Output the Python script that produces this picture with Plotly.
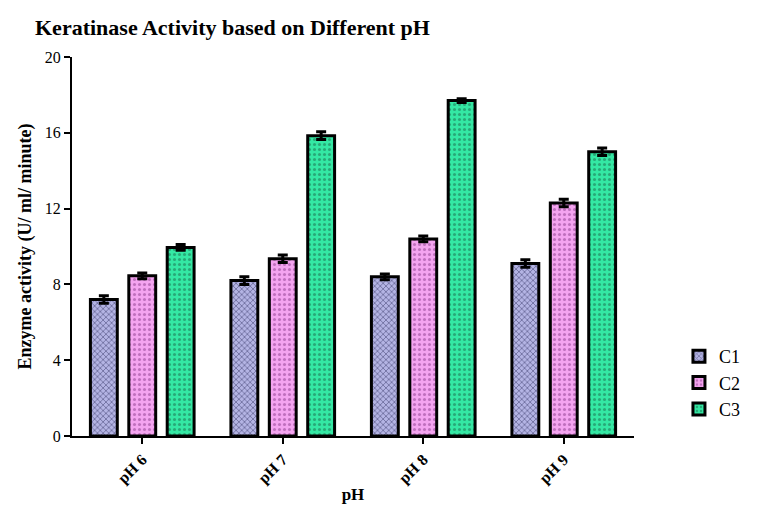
import plotly.graph_objects as go

categories = ["pH 6", "pH 7", "pH 8", "pH 9"]
c1_values = [7.2, 8.2, 8.4, 9.1]
c2_values = [8.45, 9.35, 10.4, 12.3]
c3_values = [9.95, 15.85, 17.7, 15.0]
c1_err = [0.2, 0.2, 0.15, 0.2]
c2_err = [0.15, 0.2, 0.15, 0.2]
c3_err = [0.15, 0.2, 0.1, 0.2]

series = [
    ("C1", c1_values, c1_err, "#b4b4e4", "#2c2c5c", "x", 4, 0.4),
    ("C2", c2_values, c2_err, "#f4a4f0", "#8a3a8a", ".", 5, 0.3),
    ("C3", c3_values, c3_err, "#34e8a4", "#1a6a4a", ".", 5, 0.3),
]

fig = go.Figure()
for name, vals, err, bg, fg, shape, psize, sol in series:
    fig.add_trace(go.Bar(
        name=name, x=categories, y=vals,
        marker=dict(
            color=bg,
            line=dict(color="black", width=3),
            pattern=dict(shape=shape, bgcolor=bg, fgcolor=fg, size=psize, solidity=sol, fillmode="overlay"),
        ),
        error_y=dict(type="data", array=err, visible=True, color="black", thickness=3, width=5),
    ))

font_family = "Liberation Serif, Times New Roman, serif"
fig.update_layout(
    width=757, height=511,
    paper_bgcolor="white", plot_bgcolor="white",
    margin=dict(l=64, r=131, t=49, b=83),
    barmode="group", bargap=0.18, bargroupgap=0.3,
    title=dict(text="<b>Keratinase Activity based on Different pH</b>",
               x=27/757, xanchor="left", y=1-19/511, yanchor="middle",
               font=dict(family=font_family, size=22, color="black")),
    legend=dict(x=1.08, xanchor="left", y=0.14, yanchor="middle",
                font=dict(family=font_family, size=18, color="black"),
                itemwidth=30),
    showlegend=True,
)
fig.update_xaxes(
    showline=True, linecolor="black", linewidth=2,
    ticks="outside", ticklen=6, tickwidth=2, tickcolor="black",
    tickangle=-45,
    tickfont=dict(family=font_family, size=16, color="black"),
    title=dict(text="<b>pH</b>", font=dict(family=font_family, size=17, color="black"), standoff=2),
    showgrid=False, range=[-0.5, 3.5],
    tickprefix="<b>", ticksuffix="</b>",
)
fig.update_yaxes(
    range=[0, 20], tickvals=[0, 4, 8, 12, 16, 20],
    showline=True, linecolor="black", linewidth=2,
    ticks="outside", ticklen=6, tickwidth=2, tickcolor="black",
    tickfont=dict(family=font_family, size=16, color="black"),
    tickprefix="<b>", ticksuffix="</b>",
    title=dict(text="<b>Enzyme activity (U/ ml/ minute)</b>", font=dict(family=font_family, size=18, color="black"), standoff=8),
    showgrid=False, zeroline=False,
)

fig.write_html("out.html")
